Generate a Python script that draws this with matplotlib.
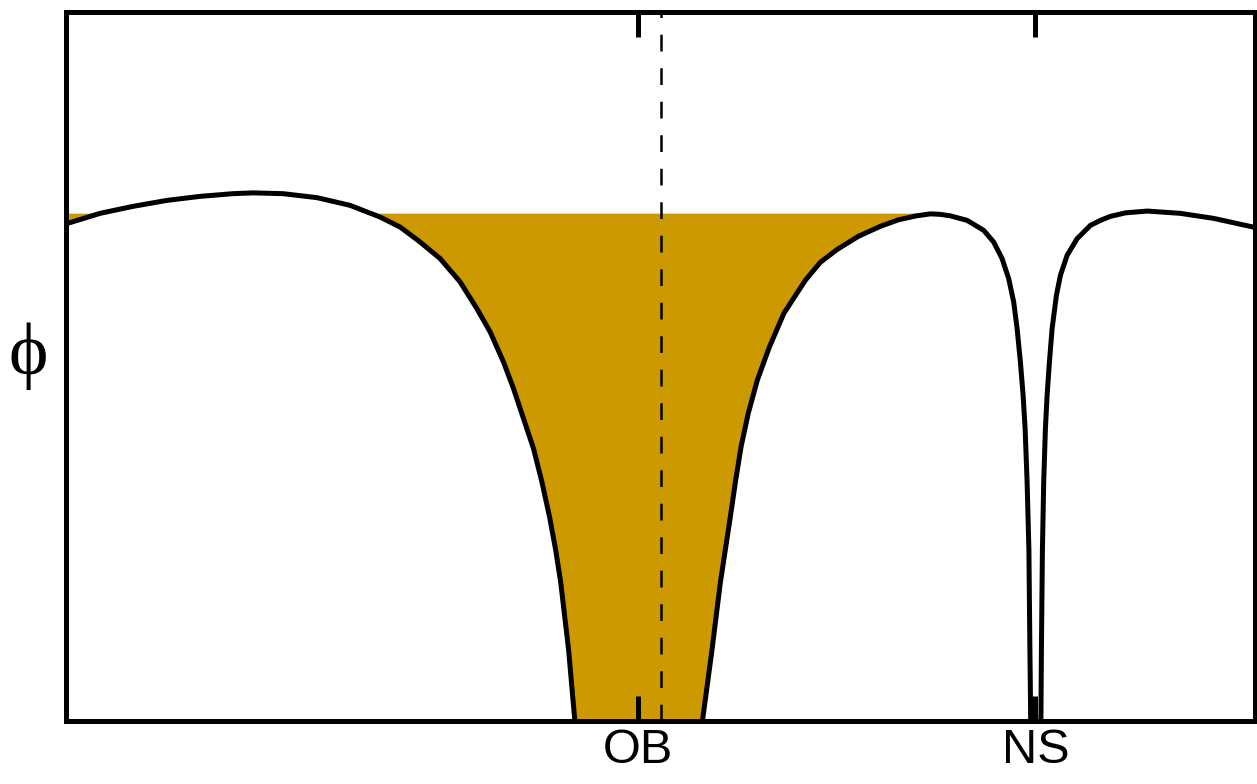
import numpy as np
import matplotlib.pyplot as plt

# potential profile, position along the path vs phi (arbitrary units)
pos = [0, 34, 67, 101, 134, 167, 187, 217, 251, 284, 314, 334, 354, 374, 394,
       410.7, 424, 437.3, 447.3, 457.3, 467.3, 475.7, 483.4, 489.5, 494.6, 502.4,
       508.3, 512,
       634, 636.7, 645.7, 654, 664, 669.4, 674.7, 682, 691, 703, 717.6, 739, 754,
       771, 792, 814, 832, 850, 864, 874,
       884, 900.7, 917.3, 927.3, 935.7, 942.3, 947.3, 950.7, 954, 956.7, 958.7,
       960.7, 962.5, 963.5, 964.3, 965, 969.5, 974, 974.5, 975, 976, 977.3, 979,
       980.7, 983, 985.7, 990, 994, 1000.7, 1010.7, 1024, 1034, 1044, 1059, 1081,
       1114, 1147, 1188]
phi = [497.5, 508, 515, 521, 525, 527.7, 528.5, 527.7, 523.7, 516, 504.3, 494.3,
       479.3, 462.7, 439.3, 412.7, 389.3, 359.3, 332.7, 302.7, 272.7, 239.3, 204,
       171, 138, 71, 4, -39,
       -39, 4, 71, 138, 204, 241, 274, 308, 341, 374, 408, 441, 459, 472, 485,
       495, 501.5, 505.5, 507.5, 507,
       505.5, 501, 491, 479.3, 462.7, 442.7, 419.3, 392.7, 359.3, 326, 292.7,
       239.3, 171, 71, 1, -39, -69, -39, 1, 71, 171, 239.3, 292.7, 326, 359.3,
       392.7, 426, 446, 466, 482.7, 496, 501, 505, 508.5, 510.3, 508, 503, 494]

level = 507.7        # filling level of the basin
ridge = 874          # basin spills over here
tick_pos = [572, 969]
tick_labels = ["OB", "NS"]
ref_pos = 595        # dashed reference line

pos = np.array(pos)
phi = np.array(phi)

fig = plt.figure(figsize=(12.57, 7.84), dpi=100)
ax = fig.add_axes([66 / 1257, 63 / 784, 1188.5 / 1257, 709.5 / 784])

ax.fill_between(pos, phi, level, where=(phi <= level) & (pos <= ridge),
                interpolate=True, color="#cc9900", lw=0, zorder=1)
ax.axvline(ref_pos, color="black", lw=1.8, dashes=(6.7, 6.7), zorder=2)
ax.plot(pos, phi, color="black", lw=3.6, zorder=3,
        solid_joinstyle="round", solid_capstyle="round")

ax.set_xlim(0, 1188)
ax.set_ylim(0, 710)
ax.set_xticks(tick_pos)
ax.set_xticklabels(tick_labels, fontsize=35, family="Liberation Sans")
ax.set_yticks([])
ax.tick_params(axis="x", direction="in", top=True, length=18, width=3.6, pad=5)
for s in ax.spines.values():
    s.set_linewidth(3.6)

fig.text(28.5 / 1257, 1 - 356 / 784, "\u03d5", fontsize=54,
         family="Liberation Serif", ha="center", va="center")

fig.savefig("out.png", dpi=100)
